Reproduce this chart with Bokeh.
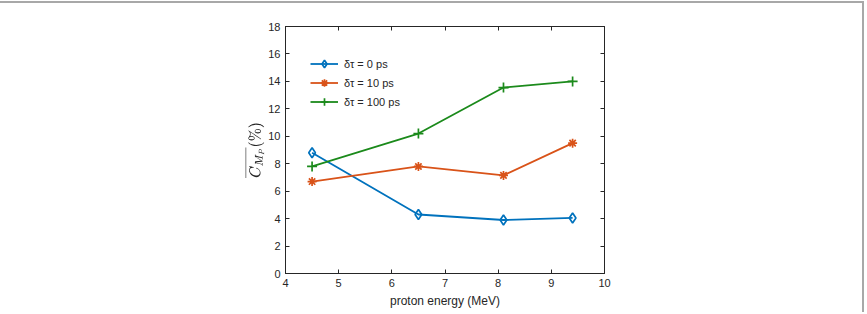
from bokeh.plotting import figure
from bokeh.models import Range1d, LinearAxis, FixedTicker, Legend, LegendItem
from bokeh.embed import file_html
from bokeh.resources import INLINE

# proton energies (MeV)
energy = [4.5, 6.5, 8.1, 9.4]
# mean contrast (%) for each delay
c_0ps = [8.8, 4.3, 3.9, 4.05]
c_10ps = [6.7, 7.8, 7.15, 9.5]
c_100ps = [7.8, 10.2, 13.55, 14.0]

labels = ["δτ = 0 ps", "δτ = 10 ps", "δτ = 100 ps"]
x_ticks = [4, 5, 6, 7, 8, 9, 10]
y_ticks = [0, 2, 4, 6, 8, 10, 12, 14, 16, 18]

BLUE = "#0072BD"
ORANGE = "#D95319"
GREEN = "#1b8a1b"
AX = "#262626"
FONT = "Liberation Sans"

p = figure(width=864, height=311, output_backend="svg", toolbar_location=None,
           x_range=Range1d(4, 10), y_range=Range1d(0, 18),
           min_border_left=285, min_border_right=260,
           min_border_top=23, min_border_bottom=41)
p.styles = {"border-top": "2px solid #a8a8a8", "border-right": "2px solid #a8a8a8",
            "margin-top": "1px"}
p.grid.visible = False
p.outline_line_color = AX
p.outline_line_width = 1
p.background_fill_color = "white"
p.border_fill_color = "white"

for ax in (p.xaxis[0], p.yaxis[0]):
    ax.axis_line_color = AX
    ax.major_tick_line_color = AX
    ax.major_tick_in = 4
    ax.major_tick_out = 0
    ax.minor_tick_line_color = None
    ax.major_label_text_font = FONT
    ax.major_label_text_font_size = "11px"
    ax.major_label_text_color = AX
    ax.axis_label_text_font = FONT
    ax.axis_label_text_font_style = "normal"
    ax.axis_label_text_color = AX

p.xaxis[0].ticker = FixedTicker(ticks=x_ticks)
p.yaxis[0].ticker = FixedTicker(ticks=y_ticks)
p.xaxis[0].axis_label = "proton energy (MeV)"
p.xaxis[0].axis_label_text_font_size = "12px"
p.xaxis[0].axis_label_standoff = 4
p.xaxis[0].major_label_standoff = 5
p.yaxis[0].axis_label = r"$$\overline{C_{M_P}}(\%)$$"
p.yaxis[0].axis_label_text_font_size = "12px"
p.yaxis[0].axis_label_standoff = 1
p.yaxis[0].major_label_standoff = 5

# mirrored ticks on the top and right edges, without labels
top = LinearAxis(ticker=FixedTicker(ticks=x_ticks),
                 major_label_overrides={t: "" for t in x_ticks})
right = LinearAxis(ticker=FixedTicker(ticks=y_ticks),
                   major_label_overrides={t: "" for t in y_ticks})
for ax in (top, right):
    ax.axis_line_color = AX
    ax.major_tick_line_color = AX
    ax.major_tick_in = 4
    ax.major_tick_out = 0
    ax.minor_tick_line_color = None
    ax.major_label_standoff = 0
p.add_layout(top, "above")
p.add_layout(right, "right")

lw = 1.8
l0 = p.line(energy, c_0ps, color=BLUE, line_width=lw)
m0 = p.scatter(energy, c_0ps, marker="diamond", size=10, line_color=BLUE,
               fill_color=None, line_width=1.7)
l1 = p.line(energy, c_10ps, color=ORANGE, line_width=lw)
m1 = p.scatter(energy, c_10ps, marker="asterisk", size=9, line_color=ORANGE, line_width=1.7)
l2 = p.line(energy, c_100ps, color=GREEN, line_width=lw)
m2 = p.scatter(energy, c_100ps, marker="cross", size=10, line_color=GREEN, line_width=1.7)

legend = Legend(items=[LegendItem(label=labels[0], renderers=[l0, m0]),
                       LegendItem(label=labels[1], renderers=[l1, m1]),
                       LegendItem(label=labels[2], renderers=[l2, m2])],
                location=(25, 162), padding=0, spacing=0, margin=0,
                border_line_color=None, background_fill_alpha=0,
                glyph_width=28, glyph_height=19, label_height=19,
                label_standoff=6, label_text_font=FONT,
                label_text_font_size="11px", label_text_color=AX)
p.add_layout(legend, "center")

open("out.html", "w").write(file_html(p, INLINE))
